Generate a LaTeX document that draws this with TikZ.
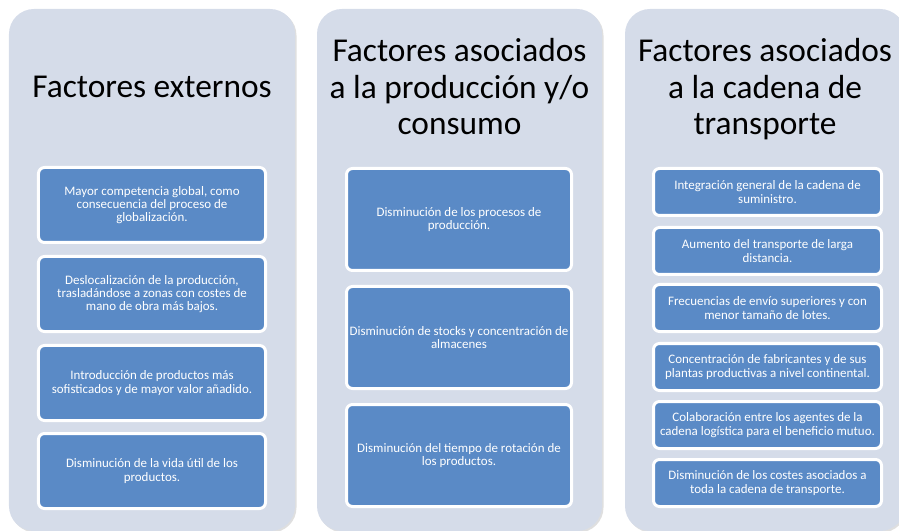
\documentclass[tikz,border=0pt]{standalone}
\usepackage{fontspec}
\setmainfont{Carlito}
\usetikzlibrary{shadows}
\definecolor{panelgrey}{HTML}{D5DCE9}
\definecolor{boxblue}{HTML}{5A8AC6}

\begin{document}
\begin{tikzpicture}[x=1bp, y=-1bp,
  panel/.style ={rectangle, rounded corners=25bp, fill=panelgrey, inner sep=0pt,
    drop shadow={shadow xshift=1.5bp, shadow yshift=-1.5bp, opacity=0.25}},
  heading/.style ={align=center, anchor=base, font=\fontsize{33.5}{37}\selectfont},
  factor/.style ={rectangle, rounded corners=6bp, fill=boxblue, draw=white,
    line width=3bp, text=white, align=center, inner sep=0pt,
    font=\fontsize{13}{13.4}\selectfont}]
 \useasboundingbox (0,0) rectangle (899,531);

 \node[panel, minimum width=286bp, minimum height=522bp] (externos)   at (152,270)   {};
 \node[panel, minimum width=285bp, minimum height=522bp] (produccion) at (459.5,270) {};
 \node[panel, minimum width=280bp, minimum height=522bp] (transporte) at (765,270)   {};

 \node[heading] (t1) at (152,98)    {Factores externos};
 \node[heading] (t2) at (459.5,135) {Factores asociados\\a la producción y/o\\consumo};
 \node[heading] (t3) at (765,135)   {Factores asociados\\a la cadena de\\transporte};

 \node[factor, minimum width=227bp, minimum height=75bp] (e1) at (152,205)
   {Mayor competencia global, como\\consecuencia del proceso de\\globalización.};
 \node[factor, minimum width=227bp, minimum height=75bp] (e2) at (152,294)
   {Deslocalización de la producción,\\trasladándose a zonas con costes de\\mano de obra más bajos.};
 \node[factor, minimum width=227bp, minimum height=75bp] (e3) at (152,383)
   {Introducción de productos más\\sofisticados y de mayor valor añadido.};
 \node[factor, minimum width=227bp, minimum height=75bp] (e4) at (152,471)
   {Disminución de la vida útil de los\\productos.};

 \node[factor, minimum width=225bp, minimum height=102bp] (p1) at (459,219.5)
   {Disminución de los procesos de\\producción.};
 \node[factor, minimum width=225bp, minimum height=102bp] (p2) at (459,337.5)
   {Disminución de stocks y concentración de\\almacenes};
 \node[factor, minimum width=225bp, minimum height=102bp] (p3) at (459,455.5)
   {Disminución del tiempo de rotación de\\los productos.};

 \node[factor, minimum width=228bp, minimum height=47bp] (c1) at (767.5,192)
   {Integración general de la cadena de\\suministro.};
 \node[factor, minimum width=228bp, minimum height=47bp] (c2) at (767.5,251)
   {Aumento del transporte de larga\\distancia.};
 \node[factor, minimum width=228bp, minimum height=47bp] (c3) at (767.5,308)
   {Frecuencias de envío superiores y con\\menor tamaño de lotes.};
 \node[factor, minimum width=228bp, minimum height=47bp] (c4) at (767.5,367)
   {Concentración de fabricantes y de sus\\plantas productivas a nivel continental.};
 \node[factor, minimum width=228bp, minimum height=47bp] (c5) at (767.5,425)
   {Colaboración entre los agentes de la\\cadena logística para el beneficio mutuo.};
 \node[factor, minimum width=228bp, minimum height=47bp] (c6) at (767.5,483)
   {Disminución de los costes asociados a\\toda la cadena de transporte.};
\end{tikzpicture}
\end{document}
